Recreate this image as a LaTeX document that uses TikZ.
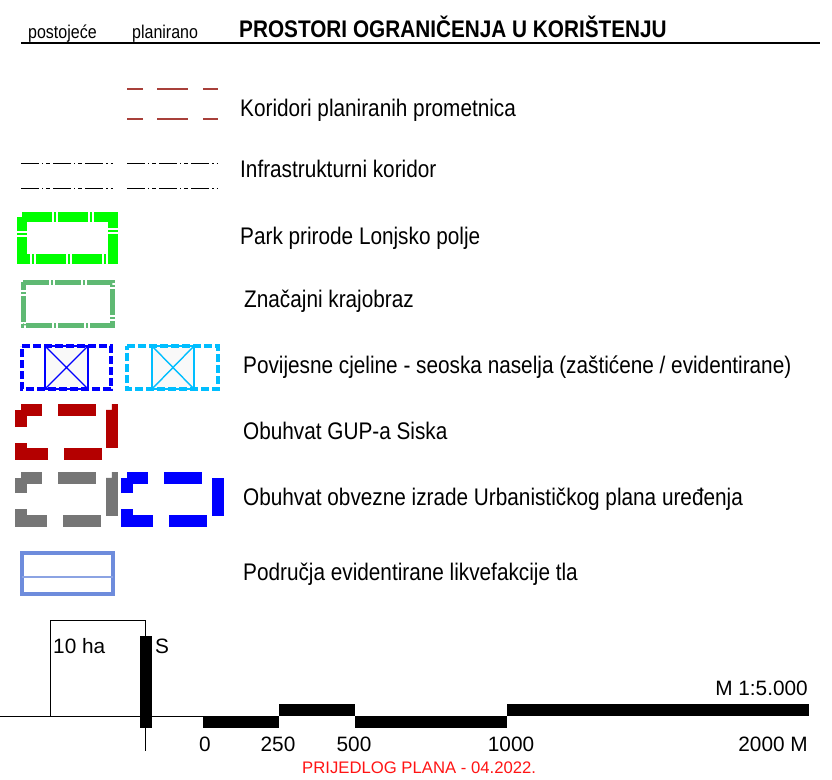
\documentclass[tikz,border=0pt]{standalone}
\usepackage{fontspec}
\setmainfont{Liberation Sans}
\usepackage{graphicx}
\usetikzlibrary{positioning}

\definecolor{koridor}{RGB}{168,64,58}
\definecolor{parkzel}{RGB}{0,255,0}
\definecolor{krajzel}{RGB}{95,185,115}
\definecolor{povplava}{RGB}{0,0,255}
\definecolor{povcijan}{RGB}{0,190,255}
\definecolor{gupcrv}{RGB}{180,0,0}
\definecolor{upusiva}{RGB}{118,118,118}
\definecolor{likve}{RGB}{110,140,220}
\definecolor{prijedlog}{RGB}{255,20,20}

\newcommand{\uski}[1]{\scalebox{0.865}[1]{#1}}

\tikzset{
	oznaka/.style={anchor=base west, inner sep=0pt, font=\fontsize{24}{26}\selectfont},
	zaglavlje/.style={anchor=base west, inner sep=0pt, font=\fontsize{18.5}{20}\selectfont},
	broj/.style={anchor=base, inner sep=0pt, font=\fontsize{20.8}{22}\selectfont},
	koridorlinija/.style={draw=koridor, line width=1.6pt, dash pattern=on 16pt off 14pt on 31pt off 15pt on 16pt off 20pt},
	infralinija/.style={draw=black, line width=0.9pt, dash pattern=on 18pt off 3pt on 1.2pt off 3pt on 4pt off 3pt},
	parkrub/.style={draw=parkzel, line width=10pt, dash pattern=on 30pt off 2pt on 2pt off 2pt},
	krajrub/.style={draw=krajzel, line width=5pt, dash pattern=on 26pt off 2pt on 2pt off 2pt},
	povrub/.style={line width=4pt, dash pattern=on 8pt off 3pt},
	povkriz/.style={line width=1.4pt, fill=gray!5},
	obuhvat/.style={line width=12pt, dash pattern=on 38pt off 16pt, dash phase=17pt},
	mjerilo/.style={fill=black}
}

\begin{document}
\begin{tikzpicture}[x=1pt,y=-1pt]
	\useasboundingbox (0,0) rectangle (832,779);
	% zaglavlje
	\node[zaglavlje] (postojece) at (28,38) {\uski{postojeće}};
	\node[zaglavlje] (planirano) at (132,38) {\uski{planirano}};
	\node[anchor=base west, inner sep=0pt, font=\fontsize{24}{26}\selectfont\bfseries] (naslov) at (239,37) {\uski{PROSTORI OGRANIČENJA U KORIŠTENJU}};
	\draw[line width=2.5pt] (21,43) -- (820,43);
	% koridori
	\foreach \y in {89,119} \draw[koridorlinija] (127,\y) -- (218,\y);
	\node[oznaka] (koridori) at (240,116) {\uski{Koridori planiranih prometnica}};
	% infrastruktura
	\foreach \y in {163,188} {
		\draw[infralinija] (21,\y) -- (113,\y);
		\draw[infralinija] (127,\y) -- (218,\y);
	}
	\node[oznaka] (infra) at (240,177) {\uski{Infrastrukturni koridor}};
	% park prirode
	\draw[parkrub] (22,217) -- (113,217) -- (113,259) -- (22,259) -- cycle;
	\node[oznaka] (park) at (240,244) {\uski{Park prirode Lonjsko polje}};
	% krajobraz
	\draw[krajrub] (23,282) -- (112,282) -- (112,325) -- (23,325) -- cycle;
	\node[oznaka] (krajobraz) at (244,307) {\uski{Značajni krajobraz}};
	% povijesne cjeline
	\draw[povkriz, draw=povplava] (45,346) rectangle (88,389);
	\draw[povplava, line width=1.4pt] (45,346) -- (88,389) (45,389) -- (88,346);
	\draw[povrub, draw=povplava] (22,346) -- (111,346) -- (111,389) -- (22,389) -- cycle;
	\draw[povkriz, draw=povcijan] (152,346) rectangle (194,389);
	\draw[povcijan, line width=1.4pt] (152,346) -- (194,389) (152,389) -- (194,346);
	\draw[povrub, draw=povcijan] (127,346) -- (218,346) -- (218,389) -- (127,389) -- cycle;
	\node[oznaka] (povijesne) at (243,373) {\uski{Povijesne cjeline - seoska naselja (zaštićene / evidentirane)}};
	% GUP
	\draw[obuhvat, draw=gupcrv] (21,410) -- (112,410) -- (112,454) -- (21,454) -- cycle;
	\node[oznaka] (gup) at (243,439) {\uski{Obuhvat GUP-a Siska}};
	% UPU
	\draw[obuhvat, draw=upusiva] (21,478) -- (112,478) -- (112,521) -- (21,521) -- cycle;
	\draw[obuhvat, draw=povplava] (127,478) -- (218,478) -- (218,521) -- (127,521) -- cycle;
	\node[oznaka] (upu) at (243,505) {\uski{Obuhvat obvezne izrade Urbanističkog plana uređenja}};
	% likvefakcija
	\draw[likve, line width=3.5pt] (22,553) rectangle (113,594);
	\draw[likve!80, line width=2pt] (22,577) -- (113,577);
	\node[oznaka] (likve) at (243,580) {\uski{Područja evidentirane likvefakcije tla}};
	% mjerilo
	\draw[line width=0.8pt] (0,716) -- (203,716);
	\draw[line width=0.8pt] (50,716) -- (50,620) -- (145,620) -- (145,751);
	\fill[mjerilo] (140,636) rectangle (152,728);
	\node[broj, anchor=base west] (ha10) at (53,653) {10 ha};
	\node[broj, anchor=base west] (sjever) at (155,653) {S};
	\fill[mjerilo] (203,716) rectangle (279,728);
	\fill[mjerilo] (279,704) rectangle (355,716);
	\fill[mjerilo] (355,716) rectangle (507,728);
	\fill[mjerilo] (507,704) rectangle (809,716);
	\node[broj] (m0) at (205,751) {0};
	\node[broj] (m250) at (278,751) {250};
	\node[broj] (m500) at (354,751) {500};
	\node[broj] (m1000) at (511,751) {1000};
	\node[broj, anchor=base east] (m2000) at (808,751) {2000 M};
	\node[broj, anchor=base east] (omjer) at (808,695) {M 1:5.000};
	\node[anchor=base west, inner sep=0pt, text=prijedlog, font=\fontsize{16.7}{18}\selectfont] (prijedlog) at (302,773) {PRIJEDLOG PLANA - 04.2022.};
\end{tikzpicture}
\end{document}
